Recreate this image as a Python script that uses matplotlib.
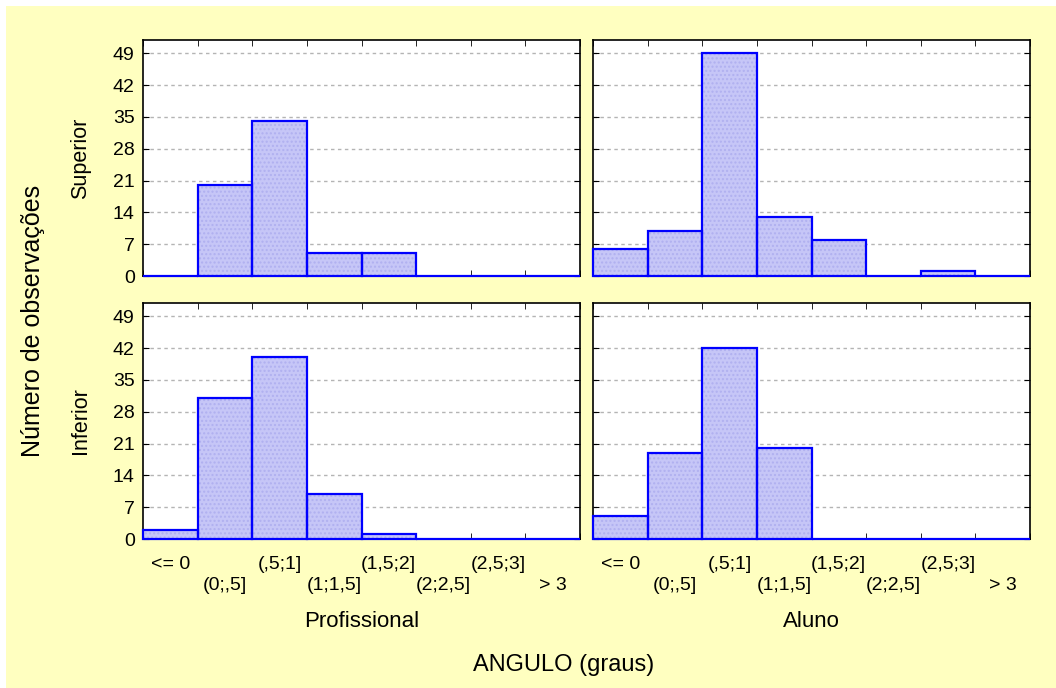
import numpy as np
import matplotlib
matplotlib.use('Agg')
import matplotlib.pyplot as plt
from matplotlib.patches import Rectangle

plt.rcParams['font.family'] = ['Liberation Sans', 'DejaVu Sans']

bins = ['<= 0', '(0;,5]', '(,5;1]', '(1;1,5]', '(1,5;2]', '(2;2,5]', '(2,5;3]', '> 3']
yticks = [0, 7, 14, 21, 28, 35, 42, 49]
cols = ['Profissional', 'Aluno']
rows = ['Superior', 'Inferior']

prof_sup = [0, 20, 34, 5, 5, 0, 0, 0]
aluno_sup = [6, 10, 49, 13, 8, 0, 1, 0]
prof_inf = [2, 31, 40, 10, 1, 0, 0, 0]
aluno_inf = [5, 19, 42, 20, 0, 0, 0, 0]
counts = [[prof_sup, aluno_sup], [prof_inf, aluno_inf]]

W, H = 1056, 688
fig = plt.figure(figsize=(W / 100, H / 100), dpi=100)
fig.patch.set_facecolor('white')
fig.patches.append(Rectangle((6 / W, 0), 1, 1 - 6 / H, transform=fig.transFigure,
                             facecolor='#ffffc0', edgecolor='none', zorder=-10))

lefts = [143, 593]
tops = [40, 303]
aw, ah = 437, 236
x = np.arange(len(bins))

for r in range(2):
    for c in range(2):
        ax = fig.add_axes([lefts[c] / W, 1 - (tops[r] + ah) / H, aw / W, ah / H])
        ax.set_facecolor('white')
        vals = counts[r][c]
        ax.bar(x, vals, width=1.0, color='#c6c6f7', hatch='....',
               edgecolor='#b0b0f0', linewidth=0, zorder=2)
        bars = ax.bar(x, vals, width=1.0, facecolor='none', edgecolor='#0000ff',
                      linewidth=1.6, zorder=3)
        for b in bars:
            b.set_clip_on(False)
        ax.set_xlim(-0.5, len(bins) - 0.5)
        ax.set_ylim(0, 51.9)
        ax.set_yticks(yticks)
        ax.yaxis.grid(True, color='#b4b4b4', linestyle=(0, (2.5, 2.5)), linewidth=1, zorder=0)
        ax.set_axisbelow(True)
        for s in ax.spines.values():
            s.set_linewidth(1.2)
            s.set_color('black')
        ax.tick_params(axis='y', direction='in', left=True, right=True, length=4,
                       labelsize=14, pad=6)
        if c == 1:
            ax.tick_params(axis='y', labelleft=False)
        ax.set_xticks(np.arange(len(bins) + 1) - 0.5, minor=True)
        ax.tick_params(axis='x', which='minor', direction='in', top=True, bottom=True, length=4)
        if r == 1:
            ax.set_xticks(x)
            ax.set_xticklabels([b if i % 2 == 0 else '\n' + b for i, b in enumerate(bins)],
                               linespacing=1.35)
            ax.tick_params(axis='x', which='major', length=0, labelsize=14, pad=12)
            ax.text(0.5, -0.35, cols[c], transform=ax.transAxes, ha='center', va='center',
                    fontsize=16)
        else:
            ax.set_xticks([])

fig.text(81 / W, 1 - 158 / H, rows[0], rotation=90, ha='center', va='center', fontsize=15.5)
fig.text(81 / W, 1 - 421 / H, rows[1], rotation=90, ha='center', va='center', fontsize=15.5)
fig.text(33 / W, 1 - 321 / H, 'Número de observações', rotation=90, ha='center', va='center',
         fontsize=18)
fig.text(564 / W, 1 - 665 / H, 'ANGULO (graus)', ha='center', va='center', fontsize=17)

fig.savefig('out.png', dpi=100, facecolor=fig.get_facecolor())
